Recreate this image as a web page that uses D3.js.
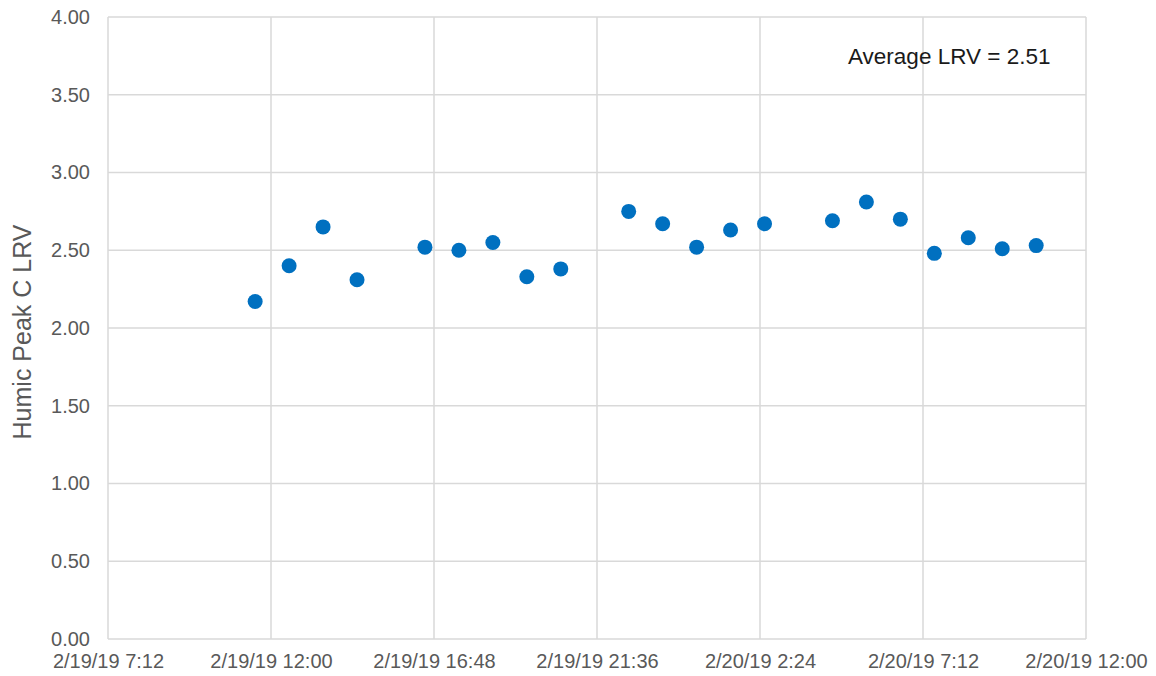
<!DOCTYPE html>
<html>
<head>
<meta charset="utf-8">
<script src="https://cdn.jsdelivr.net/npm/d3@7"></script>
<style>
  body { margin: 0; background: #fff; }
  text { font-family: "Liberation Sans", Arial, sans-serif; }
</style>
</head>
<body>
<div id="chart"></div>
<script>
// Sample times (hour-of-day strings) and Humic Peak C LRV values
var sampleTimes = [
  "2019-02-19 11:32", "2019-02-19 12:32", "2019-02-19 13:32", "2019-02-19 14:32",
  "2019-02-19 16:32", "2019-02-19 17:32", "2019-02-19 18:32", "2019-02-19 19:32",
  "2019-02-19 20:32", "2019-02-19 22:32", "2019-02-19 23:32", "2019-02-20 00:32",
  "2019-02-20 01:32", "2019-02-20 02:32", "2019-02-20 04:32", "2019-02-20 05:32",
  "2019-02-20 06:32", "2019-02-20 07:32", "2019-02-20 08:32", "2019-02-20 09:32",
  "2019-02-20 10:32"
];
var lrvValues = [
  2.17, 2.40, 2.65, 2.31,
  2.52, 2.50, 2.55, 2.33,
  2.38, 2.75, 2.67, 2.52,
  2.63, 2.67, 2.69, 2.81,
  2.70, 2.48, 2.58, 2.51,
  2.53
];
var xTickTimes = [
  "2019-02-19 07:12", "2019-02-19 12:00", "2019-02-19 16:48", "2019-02-19 21:36",
  "2019-02-20 02:24", "2019-02-20 07:12", "2019-02-20 12:00"
];
var yTickValues = [0, 0.5, 1, 1.5, 2, 2.5, 3, 3.5, 4];
var annotationText = "Average LRV = 2.51";
var yTitle = "Humic Peak C LRV";

var svgWidth = 1156;
var svgHeight = 676;

var margin = { top: 17, right: 70, bottom: 37, left: 108 };
var width = 1086 - margin.left;
var height = 639 - margin.top;

var parseTime = d3.timeParse("%Y-%m-%d %H:%M");
var formatTick = d3.timeFormat("%-m/%-d/%y %-H:%M");

var data = sampleTimes.map(function(t, i) {
  return { time: parseTime(t), lrv: lrvValues[i] };
});
var xTicks = xTickTimes.map(parseTime);

var svg = d3.select("#chart")
  .append("svg")
  .attr("width", svgWidth)
  .attr("height", svgHeight);

var chartGroup = svg.append("g")
  .attr("transform", `translate(${margin.left}, ${margin.top})`);

var xScale = d3.scaleTime()
  .domain([xTicks[0], xTicks[xTicks.length - 1]])
  .range([0, width]);

var yScale = d3.scaleLinear()
  .domain([0, 4])
  .range([height, 0]);

// Horizontal gridlines
chartGroup.append("g")
  .selectAll("line")
  .data(yTickValues)
  .enter()
  .append("line")
  .attr("x1", 0)
  .attr("x2", width)
  .attr("y1", d => yScale(d))
  .attr("y2", d => yScale(d))
  .attr("stroke", "#d9d9d9")
  .attr("stroke-width", 1.5);

// Vertical gridlines
chartGroup.append("g")
  .selectAll("line")
  .data(xTicks)
  .enter()
  .append("line")
  .attr("x1", d => xScale(d))
  .attr("x2", d => xScale(d))
  .attr("y1", 0)
  .attr("y2", height)
  .attr("stroke", "#d9d9d9")
  .attr("stroke-width", 1.5);

// Axes (labels only)
var bottomAxis = d3.axisBottom(xScale)
  .tickValues(xTicks)
  .tickFormat(formatTick)
  .tickSize(0)
  .tickPadding(22);

var leftAxis = d3.axisLeft(yScale)
  .tickValues(yTickValues)
  .tickFormat(d3.format(".2f"))
  .tickSize(0)
  .tickPadding(18);

var xAxis = chartGroup.append("g")
  .attr("transform", `translate(0, ${height})`)
  .call(bottomAxis);

var yAxis = chartGroup.append("g")
  .call(leftAxis);

[xAxis, yAxis].forEach(function(ax) {
  ax.select(".domain").remove();
  ax.selectAll("text")
    .attr("fill", "#595959")
    .style("font-size", "20px")
    .style("font-family", "'Liberation Sans', Arial, sans-serif");
});
xAxis.selectAll("text").attr("dy", "0.35em");

// Points
chartGroup.append("g")
  .selectAll("circle")
  .data(data)
  .enter()
  .append("circle")
  .attr("cx", d => xScale(d.time))
  .attr("cy", d => yScale(d.lrv))
  .attr("r", 7.5)
  .attr("fill", "#0070c0");

// Annotation
svg.append("text")
  .attr("x", 848)
  .attr("y", 64)
  .attr("fill", "#1a1a1a")
  .style("font-size", "22.5px")
  .text(annotationText);

// Y axis title
svg.append("text")
  .attr("transform", "rotate(-90)")
  .attr("x", -332)
  .attr("y", 31)
  .attr("text-anchor", "middle")
  .attr("fill", "#595959")
  .style("font-size", "25px")
  .text(yTitle);
</script>
</body>
</html>
